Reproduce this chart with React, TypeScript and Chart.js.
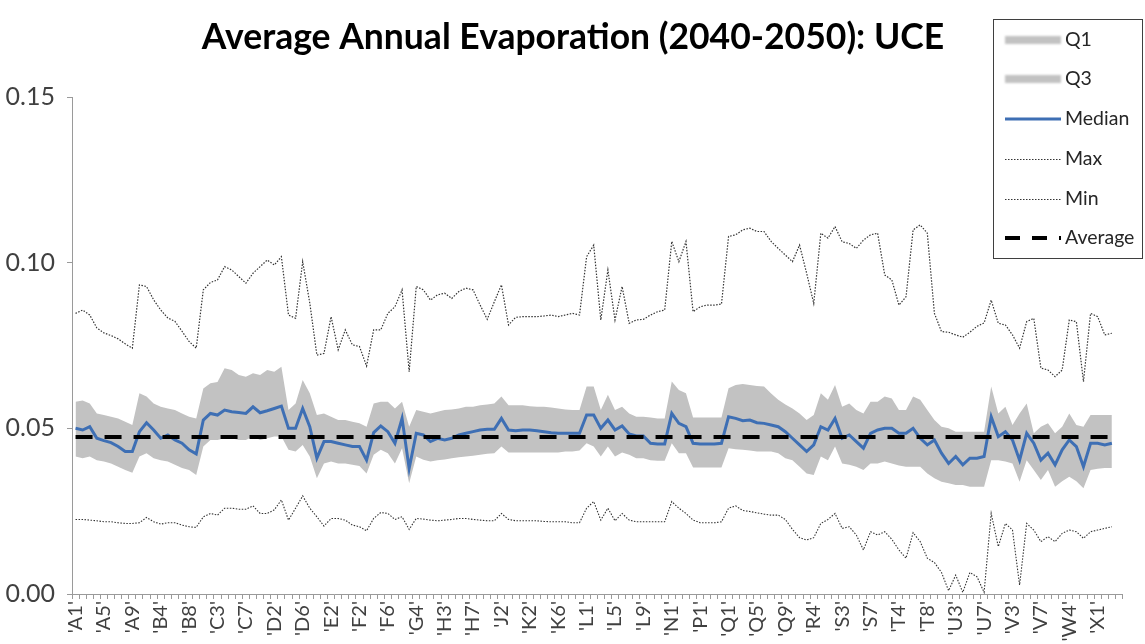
import React, { useEffect, useRef } from 'react';
import { Chart, registerables } from 'chart.js';

Chart.register(...registerables);

const TITLE = 'Average Annual Evaporation (2040-2050): UCE';

const CATEGORIES = [
  "'A1'", "'A2'", "'A3'", "'A4'", "'A5'", "'A6'", "'A7'", "'A8'", "'A9'",
  "'B1'", "'B2'", "'B3'", "'B4'", "'B5'", "'B6'", "'B7'", "'B8'", "'B9'",
  "'C1'", "'C2'", "'C3'", "'C4'", "'C5'", "'C6'", "'C7'", "'C8'", "'C9'",
  "'D1'", "'D2'", "'D3'", "'D4'", "'D5'", "'D6'", "'D7'", "'D8'",
  "'E1'", "'E2'", "'E3'", "'E4'",
  "'F1'", "'F2'", "'F3'", "'F4'", "'F5'", "'F6'",
  "'G1'", "'G2'", "'G3'", "'G4'", "'G5'",
  "'H1'", "'H2'", "'H3'", "'H4'", "'H5'", "'H6'", "'H7'", "'H8'", "'H9'",
  "'J1'", "'J2'", "'J3'", "'J4'",
  "'K1'", "'K2'", "'K3'", "'K4'", "'K5'", "'K6'", "'K7'", "'K8'", "'K9'",
  "'L1'", "'L2'", "'L3'", "'L4'", "'L5'", "'L6'", "'L7'", "'L8'", "'L9'",
  "'M1'", "'M2'", "'M3'",
  "'N1'", "'N2'", "'N3'", "'N4'",
  "'P1'", "'P2'", "'P3'", "'P4'",
  "'Q1'", "'Q2'", "'Q3'", "'Q4'", "'Q5'", "'Q6'", "'Q7'", "'Q8'", "'Q9'",
  "'R1'", "'R2'", "'R3'", "'R4'", "'R5'",
  "'S1'", "'S2'", "'S3'", "'S4'", "'S5'", "'S6'", "'S7'",
  "'T1'", "'T2'", "'T3'", "'T4'", "'T5'", "'T6'", "'T7'", "'T8'", "'T9'",
  "'U1'", "'U2'", "'U3'", "'U4'", "'U5'", "'U6'", "'U7'", "'U8'",
  "'V1'", "'V2'", "'V3'", "'V4'", "'V5'", "'V6'", "'V7'",
  "'W1'", "'W2'", "'W3'", "'W4'", "'W5'", "'W6'", "'W7'",
  "'X1'", "'X2'", "'X3'", "'X4'",
];

const Q1_VALUES = [
  0.0415, 0.041, 0.0415, 0.0404, 0.04, 0.0394, 0.0384, 0.0374, 0.0366, 0.0415,
  0.0425, 0.041, 0.0404, 0.04, 0.039, 0.038, 0.0374, 0.0359, 0.0445, 0.0465,
  0.0465, 0.047, 0.047, 0.0465, 0.0465, 0.0475, 0.0465, 0.047, 0.0475, 0.0475,
  0.0435, 0.043, 0.045, 0.0415, 0.0349, 0.0394, 0.04, 0.0394, 0.0394, 0.039,
  0.0386, 0.0364, 0.042, 0.0435, 0.0425, 0.0394, 0.044, 0.0334, 0.0415, 0.0405,
  0.04, 0.0404, 0.0406, 0.041, 0.0413, 0.0415, 0.0417, 0.042, 0.0423, 0.0425,
  0.0445, 0.0427, 0.0427, 0.0427, 0.0427, 0.0427, 0.0427, 0.0427, 0.0427, 0.043,
  0.043, 0.0433, 0.0455, 0.0445, 0.0415, 0.0445, 0.0415, 0.0427, 0.042, 0.041,
  0.041, 0.0404, 0.0402, 0.0402, 0.0455, 0.0425, 0.0425, 0.0382, 0.0382, 0.0382,
  0.0382, 0.0382, 0.044, 0.0437, 0.0435, 0.0433, 0.043, 0.043, 0.043, 0.0425,
  0.041, 0.0404, 0.0384, 0.0364, 0.0359, 0.0415, 0.0404, 0.0445, 0.0394, 0.039,
  0.0384, 0.0374, 0.0394, 0.0394, 0.04, 0.0394, 0.0388, 0.0384, 0.0384, 0.0384,
  0.0364, 0.0349, 0.0339, 0.0334, 0.0329, 0.0329, 0.0324, 0.0324, 0.0324, 0.0404,
  0.0404, 0.04, 0.0394, 0.0339, 0.0404, 0.0374, 0.0344, 0.0374, 0.0324, 0.034,
  0.0354, 0.034, 0.0319, 0.0374, 0.0378, 0.038, 0.038, null,
];

const Q3_VALUES = [
  0.058, 0.0584, 0.0575, 0.0545, 0.054, 0.0535, 0.053, 0.052, 0.051, 0.0606,
  0.0596, 0.0575, 0.0565, 0.056, 0.0555, 0.0545, 0.0535, 0.053, 0.062, 0.0636,
  0.064, 0.0681, 0.0676, 0.0661, 0.0656, 0.0666, 0.0661, 0.0676, 0.0671, 0.0686,
  0.0555, 0.0575, 0.0646, 0.0606, 0.054, 0.0545, 0.0535, 0.0525, 0.0525, 0.052,
  0.0515, 0.0505, 0.0575, 0.058, 0.058, 0.056, 0.058, 0.0505, 0.0555, 0.055,
  0.0545, 0.055, 0.0555, 0.0557, 0.056, 0.0565, 0.0565, 0.057, 0.0572, 0.0575,
  0.0596, 0.057, 0.057, 0.057, 0.0567, 0.0565, 0.0565, 0.0563, 0.056, 0.0557,
  0.0555, 0.0555, 0.0626, 0.0626, 0.0555, 0.0601, 0.0555, 0.0565, 0.0545, 0.0535,
  0.0535, 0.0533, 0.053, 0.053, 0.0641, 0.0616, 0.0606, 0.0533, 0.0533, 0.0533,
  0.0533, 0.0533, 0.0621, 0.0631, 0.0634, 0.0631, 0.0628, 0.0626, 0.0605, 0.0586,
  0.0572, 0.056, 0.0545, 0.0525, 0.054, 0.0606, 0.0586, 0.0631, 0.0565, 0.0575,
  0.0555, 0.0545, 0.058, 0.058, 0.0596, 0.059, 0.0555, 0.0555, 0.0596, 0.0586,
  0.0555, 0.0525, 0.0505, 0.05, 0.049, 0.049, 0.049, 0.049, 0.049, 0.0626,
  0.0545, 0.0565, 0.051, 0.0545, 0.0575, 0.0485, 0.0505, 0.0515, 0.0485, 0.0505,
  0.0545, 0.051, 0.0505, 0.054, 0.054, 0.054, 0.054, null,
];

const MEDIAN_VALUES = [
  0.05, 0.0495, 0.0505, 0.047, 0.0463, 0.0457, 0.0445, 0.043, 0.043, 0.049,
  0.0517, 0.0495, 0.047, 0.048, 0.0465, 0.0455, 0.0435, 0.0423, 0.0525, 0.0545,
  0.054, 0.0555, 0.055, 0.0548, 0.0545, 0.0565, 0.0547, 0.0553, 0.056, 0.0567,
  0.05, 0.05, 0.056, 0.0505, 0.041, 0.046, 0.046, 0.0455, 0.045, 0.0445,
  0.0445, 0.0404, 0.0487, 0.0507, 0.049, 0.0455, 0.053, 0.0379, 0.0485, 0.048,
  0.046, 0.047, 0.0465, 0.047, 0.048, 0.0485, 0.049, 0.0495, 0.0497, 0.0497,
  0.053, 0.0495, 0.0493, 0.0495, 0.0495, 0.0493, 0.049, 0.0487, 0.0485, 0.0485,
  0.0485, 0.0485, 0.054, 0.054, 0.05, 0.0525, 0.0495, 0.0507, 0.0483, 0.0477,
  0.0477, 0.0455, 0.0453, 0.0453, 0.0545, 0.0515, 0.0505, 0.0455, 0.0453, 0.0453,
  0.0453, 0.0455, 0.0535, 0.053, 0.0523, 0.0525, 0.0517, 0.0515, 0.051, 0.0505,
  0.049, 0.047, 0.045, 0.043, 0.045, 0.0505, 0.0495, 0.053, 0.047, 0.048,
  0.046, 0.044, 0.0485, 0.0495, 0.05, 0.05, 0.0485, 0.0485, 0.05, 0.047,
  0.045, 0.0465, 0.0425, 0.0394, 0.0415, 0.039, 0.041, 0.041, 0.0415, 0.0535,
  0.0475, 0.049, 0.0465, 0.0404, 0.0485, 0.0455, 0.0404, 0.0425, 0.039, 0.0435,
  0.0465, 0.0445, 0.0384, 0.0455, 0.0455, 0.045, 0.0455, null,
];

const MAX_VALUES = [
  0.0847, 0.0857, 0.0842, 0.0803, 0.0788, 0.078, 0.077, 0.0755, 0.0742, 0.0933,
  0.0928, 0.0888, 0.0857, 0.0833, 0.0823, 0.0793, 0.0762, 0.0742, 0.0918, 0.094,
  0.0948, 0.0988, 0.0978, 0.0958, 0.0938, 0.0968, 0.0988, 0.1008, 0.0993, 0.1018,
  0.0842, 0.0832, 0.1003, 0.0878, 0.0721, 0.0726, 0.0837, 0.0737, 0.0797, 0.0752,
  0.0747, 0.0688, 0.0797, 0.0797, 0.0847, 0.0867, 0.0918, 0.0671, 0.0928, 0.0918,
  0.0887, 0.0903, 0.0908, 0.0892, 0.0913, 0.0923, 0.0918, 0.0872, 0.0829, 0.0882,
  0.0933, 0.0812, 0.0835, 0.0837, 0.0837, 0.0837, 0.0839, 0.0842, 0.0837, 0.0842,
  0.0847, 0.0842, 0.1018, 0.1053, 0.0827, 0.0978, 0.0827, 0.0928, 0.0817, 0.0827,
  0.0829, 0.0842, 0.0852, 0.0857, 0.1064, 0.1003, 0.1064, 0.0852, 0.0867, 0.0872,
  0.0872, 0.0875, 0.1079, 0.1084, 0.1099, 0.1104, 0.1094, 0.1094, 0.1064, 0.1043,
  0.1023, 0.1003, 0.1053, 0.0968, 0.0877, 0.1089, 0.1074, 0.1109, 0.1063, 0.1058,
  0.1043, 0.1068, 0.1084, 0.1089, 0.0963, 0.0948, 0.0872, 0.0897, 0.1099, 0.1114,
  0.1089, 0.0847, 0.0792, 0.079, 0.0782, 0.0775, 0.079, 0.0808, 0.0818, 0.0887,
  0.0817, 0.0812, 0.0782, 0.0742, 0.0822, 0.0832, 0.0682, 0.0676, 0.0656, 0.0676,
  0.0827, 0.0822, 0.0641, 0.0847, 0.0837, 0.0782, 0.0787, null,
];

const MIN_VALUES = [
  0.0225, 0.0225, 0.0223, 0.0221, 0.0218, 0.0218, 0.0215, 0.0213, 0.0213, 0.0215,
  0.0231, 0.0218, 0.0211, 0.0215, 0.0215, 0.0208, 0.0203, 0.0201, 0.0233, 0.0243,
  0.0238, 0.0259, 0.0259, 0.0256, 0.0256, 0.0266, 0.0243, 0.0243, 0.0254, 0.0284,
  0.0223, 0.0259, 0.0296, 0.0259, 0.0233, 0.0205, 0.0228, 0.0228, 0.0223, 0.0208,
  0.0203, 0.0191, 0.0228, 0.0246, 0.0243, 0.0225, 0.0233, 0.0195, 0.0228, 0.0226,
  0.0223, 0.0221, 0.0223, 0.0225, 0.0228, 0.0228, 0.0225, 0.0223, 0.0221, 0.0221,
  0.0243, 0.0225, 0.0221, 0.0221, 0.0221, 0.0221, 0.0219, 0.0218, 0.0218, 0.0218,
  0.0215, 0.0215, 0.0259, 0.0279, 0.0223, 0.0259, 0.0221, 0.0243, 0.0223, 0.0218,
  0.0218, 0.0218, 0.0218, 0.0218, 0.0279, 0.0259, 0.0243, 0.0223, 0.0215, 0.0215,
  0.0215, 0.0218, 0.0259, 0.0266, 0.0252, 0.0249, 0.0245, 0.0241, 0.0238, 0.0238,
  0.0225, 0.0195, 0.017, 0.0163, 0.017, 0.0213, 0.0225, 0.0243, 0.0198, 0.0203,
  0.0178, 0.0133, 0.0188, 0.0178, 0.0188, 0.0165, 0.0133, 0.0108, 0.0185, 0.0158,
  0.0108, 0.0095, 0.0065, 0.001, 0.0057, 0.0005, 0.0065, 0.0052, 0.0005, 0.0243,
  0.0143, 0.0213, 0.0193, 0.0027, 0.0213, 0.0193, 0.0158, 0.0173, 0.0158, 0.0183,
  0.0193, 0.0188, 0.0168, 0.0188, 0.0193, 0.0198, 0.0203, null,
];

const AVERAGE_VALUE = 0.0474;
const AVERAGE_VALUES = MEDIAN_VALUES.map((v) => (v === null ? null : AVERAGE_VALUE));

const Y_TICKS = [0, 0.05, 0.1, 0.15];
const LEGEND_LABELS = ['Q1', 'Q3', 'Median', 'Max', 'Min', 'Average'];

const FONT = 'Lato, "Open Sans", sans-serif';
const BAND = '#c2c2c2';
const BLUE = '#3e6fb4';
const DOT = '#333333';

const titlePlugin = {
  id: 'titleText',
  afterDraw(chart: any) {
    const ctx = chart.ctx;
    ctx.save();
    ctx.font = `bold 35.5px ${FONT}`;
    ctx.fillStyle = '#000000';
    ctx.textAlign = 'center';
    ctx.textBaseline = 'middle';
    ctx.fillText(TITLE, 573, 38);
    ctx.restore();
  },
};

const legendPlugin = {
  id: 'boxLegend',
  afterDraw(chart: any) {
    const ctx = chart.ctx;
    const x0 = 993;
    const y0 = 19;
    const w = 149;
    const h = 239;
    const rows = [40, 79, 119, 159, 199, 238];
    const sx1 = 1005;
    const sx2 = 1061;
    ctx.save();
    ctx.fillStyle = '#ffffff';
    ctx.fillRect(x0, y0, w, h);
    ctx.strokeStyle = '#3f3f3f';
    ctx.lineWidth = 1;
    ctx.strokeRect(x0 + 0.5, y0 + 0.5, w, h);
    LEGEND_LABELS.forEach((label, i) => {
      const y = rows[i];
      ctx.save();
      if (i < 2) {
        ctx.filter = 'blur(1.2px)';
        ctx.fillStyle = BAND;
        ctx.fillRect(sx1, y - 4, sx2 - sx1, 8);
      } else if (i === 2) {
        ctx.strokeStyle = BLUE;
        ctx.lineWidth = 3;
        ctx.beginPath();
        ctx.moveTo(sx1, y);
        ctx.lineTo(sx2, y);
        ctx.stroke();
      } else if (i === 3 || i === 4) {
        ctx.strokeStyle = DOT;
        ctx.lineWidth = i === 3 ? 1.2 : 1;
        ctx.setLineDash([1.5, 1.5]);
        ctx.beginPath();
        ctx.moveTo(sx1, y + 0.5);
        ctx.lineTo(sx2, y + 0.5);
        ctx.stroke();
      } else {
        ctx.strokeStyle = '#000000';
        ctx.lineWidth = 4;
        ctx.setLineDash([15, 12]);
        ctx.beginPath();
        ctx.moveTo(sx1, y);
        ctx.lineTo(sx2, y);
        ctx.stroke();
      }
      ctx.restore();
      ctx.font = `19.5px ${FONT}`;
      ctx.fillStyle = '#262626';
      ctx.textAlign = 'left';
      ctx.textBaseline = 'middle';
      ctx.fillText(label, 1065, y);
    });
    ctx.restore();
  },
};

export default function App() {
  const canvasRef = useRef<HTMLCanvasElement | null>(null);

  useEffect(() => {
    if (!canvasRef.current) return;
    const chart = new Chart(canvasRef.current, {
      type: 'line',
      data: {
        labels: CATEGORIES,
        datasets: [
          {
            label: 'Q1',
            data: Q1_VALUES,
            borderWidth: 0,
            borderColor: 'rgba(0,0,0,0)',
            pointRadius: 0,
            fill: false,
            order: 6,
          },
          {
            label: 'Q3',
            data: Q3_VALUES,
            borderWidth: 0,
            borderColor: 'rgba(0,0,0,0)',
            backgroundColor: BAND,
            pointRadius: 0,
            fill: '-1',
            order: 5,
          },
          {
            label: 'Median',
            data: MEDIAN_VALUES,
            borderColor: BLUE,
            borderWidth: 3,
            pointRadius: 0,
            fill: false,
            order: 2,
          },
          {
            label: 'Max',
            data: MAX_VALUES,
            borderColor: DOT,
            borderWidth: 1.2,
            borderDash: [1.5, 1.5],
            pointRadius: 0,
            fill: false,
            order: 3,
          },
          {
            label: 'Min',
            data: MIN_VALUES,
            borderColor: DOT,
            borderWidth: 1.1,
            borderDash: [1.5, 1.5],
            pointRadius: 0,
            fill: false,
            order: 3,
          },
          {
            label: 'Average',
            data: AVERAGE_VALUES,
            borderColor: '#000000',
            borderWidth: 4,
            borderDash: [17, 12],
            pointRadius: 0,
            fill: false,
            order: 1,
          },
        ],
      },
      options: {
        animation: false,
        responsive: true,
        maintainAspectRatio: false,
        events: [],
        layout: { padding: { top: 97, right: 13, left: 0, bottom: 0 } },
        elements: { line: { tension: 0 } },
        plugins: {
          legend: { display: false },
          title: { display: false },
          tooltip: { enabled: false },
        },
        scales: {
          x: {
            type: 'category',
            offset: true,
            grid: {
              display: true,
              drawOnChartArea: false,
              drawTicks: true,
              tickLength: 5,
              color: '#9a9a9a',
              offset: true,
            },
            border: { display: true, color: '#9a9a9a', width: 1 },
            ticks: {
              autoSkip: false,
              maxRotation: 90,
              minRotation: 90,
              padding: 2,
              color: '#404040',
              font: { family: FONT, size: 20 },
              callback: (_v: any, i: number) => (i % 4 === 0 ? CATEGORIES[i] : ''),
            },
            afterFit: (s: any) => {
              s.height = 50;
            },
          },
          y: {
            min: 0,
            max: 0.15,
            grid: {
              display: true,
              drawOnChartArea: false,
              drawTicks: true,
              tickLength: 5,
              color: '#9a9a9a',
            },
            border: { display: true, color: '#9a9a9a', width: 1 },
            afterBuildTicks: (s: any) => {
              s.ticks = Y_TICKS.map((v) => ({ value: v }));
            },
            ticks: {
              padding: 12,
              color: '#404040',
              font: { family: FONT, size: 25 },
              callback: (v: any) => Number(v).toFixed(2),
            },
            afterFit: (s: any) => {
              s.width = 72;
            },
          },
        },
      },
      plugins: [titlePlugin, legendPlugin],
    });
    return () => chart.destroy();
  }, []);

  return (
    <div style={{ position: 'fixed', left: 0, top: 0, width: 1145, height: 644, background: '#ffffff' }}>
      <canvas ref={canvasRef} />
    </div>
  );
}
